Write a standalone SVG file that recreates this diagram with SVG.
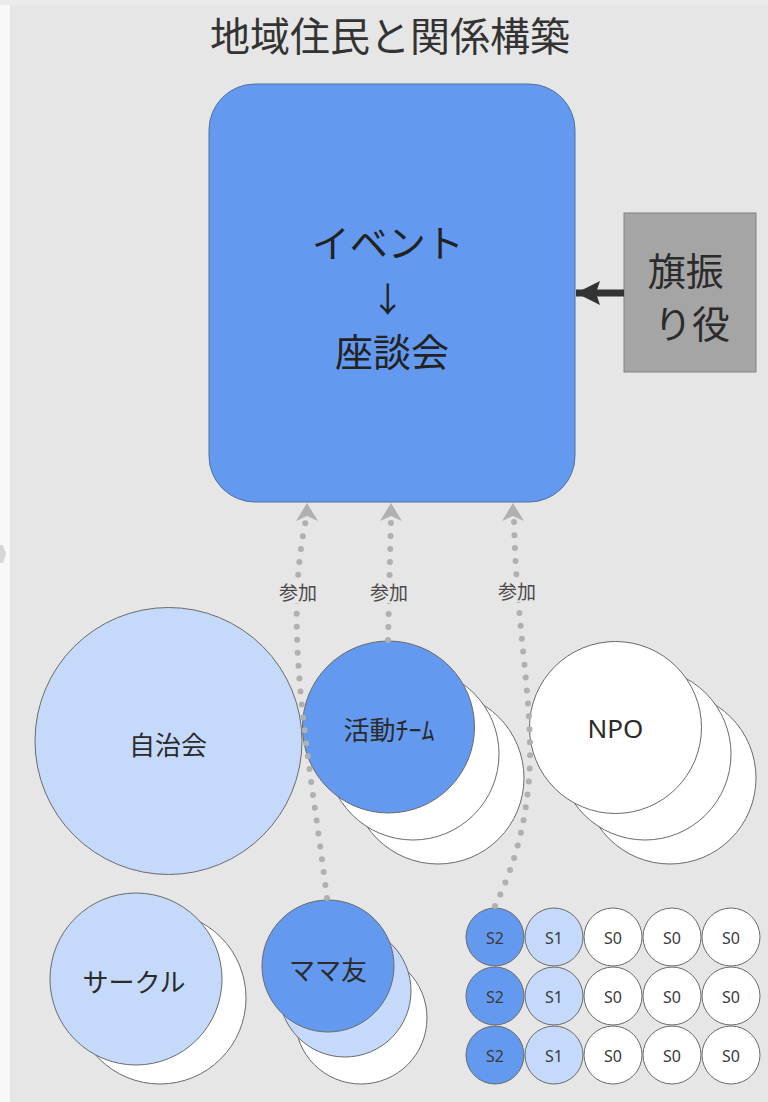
<svg xmlns="http://www.w3.org/2000/svg" width="768" height="1102" viewBox="0 0 768 1102">
  <style>
    .jp { font-family: "Noto Sans CJK JP", "Noto Sans", sans-serif; }
    .lat { font-family: "Noto Sans", "Open Sans", "Noto Sans CJK JP", sans-serif; }
    .node { stroke: #6a6a6a; stroke-width: 1; }
    .blue { fill: #6399ee; }
    .light { fill: #c5dafa; }
    .white { fill: #ffffff; }
    .lbl { font-size: 26px; fill: #2b2b2b; text-anchor: middle; dominant-baseline: central; }
    .s { font-size: 16px; fill: #3a3a3a; text-anchor: middle; dominant-baseline: central; }
    .dot { fill: none; stroke: #b0b0b0; stroke-width: 6; stroke-linecap: round; stroke-dasharray: 0 13; }
    .elabel { font-size: 19px; fill: #4a4a4a; text-anchor: middle; dominant-baseline: central; }
  </style>
  <defs>
    <marker id="upArrow" markerUnits="userSpaceOnUse" viewBox="0 0 18 22" markerWidth="18" markerHeight="22" refX="18" refY="11" orient="270">
      <path d="M0,0 L18,11 L0,22 L5,11 Z" fill="#b0b0b0"/>
    </marker>
    <marker id="darkArrow" markerUnits="userSpaceOnUse" viewBox="0 0 24 24" markerWidth="24" markerHeight="24" refX="24" refY="12" orient="auto">
      <path d="M0,0 L24,12 L0,24 L4,12 Z" fill="#333"/>
    </marker>
  </defs>

  <!-- background -->
  <rect x="0" y="0" width="768" height="1102" fill="#e6e6e6"/>
  <rect x="0" y="0" width="768" height="5" fill="#ebebeb"/>
  <rect x="0" y="5" width="10" height="1097" fill="#f8f8f8"/>
  <polygon points="0,545 3,545 6,554 3,563 0,563" fill="#d6d6d6"/>

  <!-- title -->
  <g id="title">
    <text x="390" y="34" class="jp" font-size="40" fill="#333" text-anchor="middle" dominant-baseline="central">地域住民と関係構築</text>
  </g>

  <!-- main event box -->
  <g id="event">
    <rect x="209" y="84" width="366" height="418" rx="46" ry="46" fill="#6399ee" stroke="#50709f" stroke-width="1"/>
    <text class="jp" font-size="38" fill="#222" text-anchor="middle" dominant-baseline="central">
      <tspan x="392" y="240">イベント</tspan>
      <tspan x="392" y="297" font-size="34">↓</tspan>
      <tspan x="392" y="349">座談会</tspan>
    </text>
  </g>

  <!-- flag bearer -->
  <g id="flagbearer">
    <rect x="624" y="213" width="132" height="159" fill="#a5a5a5" stroke="#808080" stroke-width="1"/>
    <text class="jp" font-size="38" fill="#2b2b2b" text-anchor="middle" dominant-baseline="central">
      <tspan x="690" y="268">旗振</tspan>
      <tspan x="692" y="321">り役</tspan>
    </text>
  </g>

  <!-- 自治会 -->
  <g id="jichikai">
    <circle cx="168.5" cy="741" r="133.5" class="node light"/>
    <text x="168" y="743" class="jp lbl">自治会</text>
  </g>

  <!-- 活動チーム -->
  <g id="katsudo">
    <circle cx="438" cy="778" r="86" class="node white"/>
    <circle cx="413" cy="754" r="86" class="node white"/>
    <circle cx="388.5" cy="727" r="86" class="node blue"/>
    <text x="389" y="728" class="jp lbl">活動ﾁｰﾑ</text>
  </g>

  <!-- NPO -->
  <g id="npo">
    <circle cx="670" cy="778" r="86" class="node white"/>
    <circle cx="645" cy="754" r="86" class="node white"/>
    <circle cx="615.5" cy="727.5" r="86" class="node white"/>
    <text x="615.5" y="728" class="lat lbl">NPO</text>
  </g>

  <!-- サークル -->
  <g id="circle-group">
    <circle cx="160" cy="998" r="86" class="node white"/>
    <circle cx="136" cy="979" r="86" class="node light"/>
    <text x="134" y="980" class="jp lbl">サークル</text>
  </g>

  <!-- ママ友 -->
  <g id="mamatomo">
    <circle cx="361" cy="1018" r="66" class="node white"/>
    <circle cx="345" cy="991" r="66" class="node light"/>
    <circle cx="328" cy="966" r="66" class="node blue"/>
    <text x="328" y="968" class="jp lbl">ママ友</text>
  </g>

  <!-- S grid -->
  <g id="s-grid">
    <g id="r1">
      <circle cx="495" cy="937" r="29" class="node blue"/><text x="495" y="938" class="lat s">S2</text>
      <circle cx="554" cy="937" r="29" class="node light"/><text x="554" y="938" class="lat s">S1</text>
      <circle cx="613" cy="937" r="29" class="node white"/><text x="613" y="938" class="lat s">S0</text>
      <circle cx="672" cy="937" r="29" class="node white"/><text x="672" y="938" class="lat s">S0</text>
      <circle cx="731" cy="937" r="29" class="node white"/><text x="731" y="938" class="lat s">S0</text>
    </g>
    <g id="r2">
      <circle cx="495" cy="996" r="29" class="node blue"/><text x="495" y="997" class="lat s">S2</text>
      <circle cx="554" cy="996" r="29" class="node light"/><text x="554" y="997" class="lat s">S1</text>
      <circle cx="613" cy="996" r="29" class="node white"/><text x="613" y="997" class="lat s">S0</text>
      <circle cx="672" cy="996" r="29" class="node white"/><text x="672" y="997" class="lat s">S0</text>
      <circle cx="731" cy="996" r="29" class="node white"/><text x="731" y="997" class="lat s">S0</text>
    </g>
    <g id="r3">
      <circle cx="495" cy="1055" r="29" class="node blue"/><text x="495" y="1056" class="lat s">S2</text>
      <circle cx="554" cy="1055" r="29" class="node light"/><text x="554" y="1056" class="lat s">S1</text>
      <circle cx="613" cy="1055" r="29" class="node white"/><text x="613" y="1056" class="lat s">S0</text>
      <circle cx="672" cy="1055" r="29" class="node white"/><text x="672" y="1056" class="lat s">S0</text>
      <circle cx="731" cy="1055" r="29" class="node white"/><text x="731" y="1056" class="lat s">S0</text>
    </g>
  </g>

  <!-- connectors -->
  <g id="connectors">
    <path d="M624,293 L576,293" stroke="#333" stroke-width="7" fill="none" marker-end="url(#darkArrow)"/>

    <path class="dot" d="M327,898 C310,760 282,630 306,520" />
    <path d="M306,520 L307,503" fill="none" stroke="none" marker-end="url(#upArrow)"/>

    <path class="dot" d="M388,640 L391,520" />
    <path d="M391,520 L391,503" fill="none" stroke="none" marker-end="url(#upArrow)"/>

    <path class="dot" d="M495,906 C505,885 528,835 530,760 C531,690 516,620 514,520" />
    <path d="M514,520 L513,503" fill="none" stroke="none" marker-end="url(#upArrow)"/>

    <rect x="277" y="579" width="42" height="24" fill="#e6e6e6"/>
    <text x="298" y="591" class="jp elabel">参加</text>
    <rect x="368" y="579" width="42" height="24" fill="#e6e6e6"/>
    <text x="389" y="591" class="jp elabel">参加</text>
    <rect x="496" y="578" width="42" height="24" fill="#e6e6e6"/>
    <text x="517" y="590" class="jp elabel">参加</text>
  </g>
</svg>
